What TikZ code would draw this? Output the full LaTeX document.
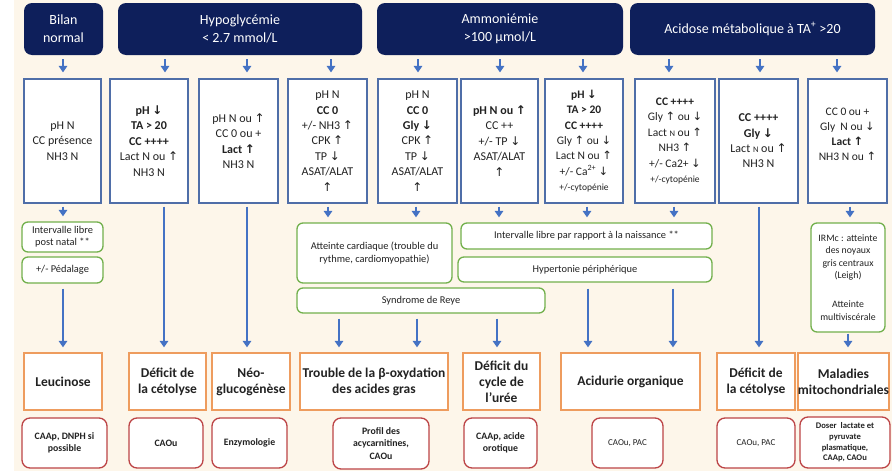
\documentclass[tikz,border=0pt]{standalone}
\usepackage{fontspec}
\setmainfont{Carlito}
\newfontfamily\arrf{DejaVu Sans}[Scale=1.0]
\usetikzlibrary{arrows.meta}
\definecolor{bgc}{HTML}{FDF6EA}
\definecolor{navy}{HTML}{0E1F5B}
\definecolor{bbord}{HTML}{4F6EA8}
\definecolor{arrc}{HTML}{4472C4}
\definecolor{grn}{HTML}{72B04C}
\definecolor{org}{HTML}{EE9C5E}
\definecolor{redb}{HTML}{BC4446}
\definecolor{txt}{HTML}{222222}
\newcommand{\myup}{{\arrf ↑}}
\newcommand{\mydn}{{\arrf ↓}}
\newcommand{\smN}{{\fontsize{8.5}{8.5}\selectfont N}}
\tikzset{
  hdr/.style={fill=navy, rounded corners=8pt, text=white, align=center,
    font=\fontsize{14}{18}\selectfont, inner sep=0pt, minimum height=52},
  bbox/.style={draw=bbord, line width=1.2pt, fill=white, align=center, text=txt,
    font=\fontsize{12}{15.4}\selectfont, inner sep=0pt, minimum height=124},
  gbox/.style={draw=grn, line width=1.3pt, fill=white, rounded corners=6pt, align=center,
    text=txt, font=\fontsize{10.4}{12.4}\selectfont, inner sep=0pt},
  obox/.style={draw=org, line width=1.3pt, fill=white, align=center, text=txt,
    font=\bfseries\fontsize{13.5}{16}\selectfont, inner sep=0pt, minimum height=57},
  rbox/.style={draw=redb, line width=1.3pt, fill=white, rounded corners=8pt, align=center,
    text=txt, font=\bfseries\fontsize{9.8}{12.5}\selectfont, inner sep=0pt, minimum height=50},
  arr/.style={draw=arrc, line width=2.4pt, -{Triangle[width=8.5pt,length=6.5pt]}},
}
\begin{document}
\begin{tikzpicture}[x=1pt,y=-1pt]
\fill[white] (0,0) rectangle (892,471);
\fill[bgc] (14,0) rectangle (892,471);
\useasboundingbox (0,0) rectangle (892,471);
\foreach \v in {63,164,165,247,331,418,500,583,669,760,837,328,416,499,587,674,759,850,339,417,497,588,673,848}
  {\coordinate (k\v) at (\v,0);}

% headers
\node[hdr, minimum width=79] (H1) at (63.5,29) {Bilan\\normal};
\node[hdr, minimum width=244] (H2) at (240,29) {Hypoglycémie\\< 2.7 mmol/L};
\node[hdr, minimum width=246] (H3) at (500,29) {Ammoniémie\\>100 µmol/L};
\node[hdr, minimum width=245] (H4) at (752.5,29) {Acidose métabolique à TA\textsuperscript{+} >20};

% blue boxes
\node[bbox, minimum width=77] (B1) at (62.5,141) {pH N\\CC présence\\NH3 N};
\node[bbox, minimum width=78] (B2) at (149,141) {\textbf{pH \mydn}\\\textbf{TA > 20}\\\textbf{CC ++++}\\Lact N ou \myup\\NH3 N};
\node[bbox, minimum width=79] (B3) at (238.5,141) {pH N ou \myup\\CC 0 ou +\\\textbf{Lact \myup}\\NH3 N};
\node[bbox, minimum width=79] (B4) at (327.5,141) {pH N\\\textbf{CC 0}\\+/- NH3 \myup\\CPK \myup\\TP \mydn\\ASAT/ALAT\\\myup};
\node[bbox, minimum width=79] (B5) at (417.5,141) {pH N\\\textbf{CC 0}\\\textbf{Gly \mydn}\\CPK \myup\\TP \mydn\\ASAT/ALAT\\\myup};
\node[bbox, minimum width=77] (B6) at (499.5,141) {\textbf{pH N ou \myup}\\CC ++\\+/- TP \mydn\\ASAT/ALAT\\\myup};
\node[bbox, minimum width=78, font=\fontsize{11.5}{15.4}\selectfont] (B7) at (584,141) {\textbf{pH \mydn}\\\textbf{TA > 20}\\\textbf{CC ++++}\\Gly \myup{} ou \mydn\\Lact N ou \myup\\+/- Ca\textsuperscript{2+} \mydn\\{\fontsize{9.5}{11}\selectfont +/-cytopénie}};
\node[bbox, minimum width=80, font=\fontsize{11.5}{15.4}\selectfont] (B8) at (675,141) {\textbf{CC ++++}\\Gly \myup{} ou \mydn\\Lact \smN{} ou \myup\\NH3 \myup\\+/- Ca2+ \mydn\\{\fontsize{9.5}{11}\selectfont +/-cytopénie}};
\node[bbox, minimum width=79] (B9) at (758.5,141) {\textbf{CC ++++}\\\textbf{Gly \mydn}\\Lact \smN{} ou \myup\\NH3 N};
\node[bbox, minimum width=79] (B10) at (847.5,141) {};
\node[align=center, text=txt, font=\fontsize{11.5}{15}\selectfont, inner sep=0pt] (T10) at (847.5,134) {CC 0 ou +\\Gly~ N ou \mydn\\\textbf{Lact \myup}\\NH3 N ou \myup};

% green boxes
\node[gbox, minimum width=81, minimum height=30] (G1a) at (62.5,237) {Intervalle libre\\post natal **};
\node[gbox, minimum width=81, minimum height=26] (G1b) at (62.5,270) {+/- Pédalage};
\node[gbox, minimum width=155, minimum height=60] (G4) at (374.5,253) {Atteinte cardiaque (trouble du\\rythme, cardiomyopathie)};
\node[gbox, minimum width=248, minimum height=25] (Reye) at (421,300.5) {Syndrome de Reye};
\node[gbox, minimum width=251, minimum height=26] (G6) at (586.5,236) {Intervalle libre par rapport à la naissance **};
\node[gbox, minimum width=254, minimum height=25] (Hyp) at (585,269.5) {Hypertonie périphérique};
\node[gbox, minimum width=74, minimum height=109, font=\fontsize{9.8}{12.4}\selectfont] (G10) at (848,277.5) {IRMc : atteinte\\des noyaux\\gris centraux\\(Leigh)\\[17pt]Atteinte\\multiviscérale};

% orange boxes
\node[obox, minimum width=78] (O1) at (63,381.5) {Leucinose};
\node[obox, minimum width=77] (O2) at (167.5,381.5) {Déficit de\\la cétolyse};
\node[obox, minimum width=78] (O3) at (251,381.5) {Néo-\\glucogénèse};
\node[obox, minimum width=148] (O4) at (374,381.5) {Trouble de la β-oxydation\\des acides gras};
\node[obox, minimum width=77] (O5) at (501.5,381.5) {Déficit du\\cycle de\\l’urée};
\node[obox, minimum width=139] (O6) at (630.5,381.5) {Acidurie organique};
\node[obox, minimum width=78] (O7) at (756,381.5) {Déficit de\\la cétolyse};
\node[obox, minimum width=87] (O8) at (843.5,381.5) {Maladies\\mitochondriales};

% red boxes
\node[rbox, minimum width=85] (R1) at (64.5,443) {CAAp, DNPH si\\possible};
\node[rbox, minimum width=74] (R2) at (166,443) {CAOu};
\node[rbox, minimum width=75] (R3) at (249.5,443) {Enzymologie};
\node[rbox, minimum width=96, minimum height=51] (R4) at (381,443.5) {Profil des\\acycarnitines,\\CAOu};
\node[rbox, minimum width=73] (R5) at (500.5,443) {CAAp, acide\\orotique};
\node[rbox, minimum width=71, font=\fontsize{9}{11}\selectfont] (R6) at (627.5,443) {CAOu, PAC};
\node[rbox, minimum width=78, font=\fontsize{9}{11}\selectfont] (R7) at (756,443) {CAOu, PAC};
\node[rbox, minimum width=90, minimum height=51, font=\bfseries\fontsize{8.6}{10.6}\selectfont] (R8) at (845,442.5) {Doser~ lactate et\\pyruvate\\plasmatique,\\CAAp, CAOu};

% header arrows
\foreach \h/\b/\k in {H1/B1/63, H2/B2/165, H2/B3/247, H3/B4/331, H3/B5/418, H3/B6/500, H3/B7/583, H4/B8/669, H4/B9/760, H4/B10/837}
  {\draw[arr, shorten <=4pt, shorten >=6pt] (\h.south -| k\k) -- (\b.north -| k\k);}

% short arrows to green boxes
\foreach \a/\b/\k in {B1/G1a/63, B4/G4/328, B5/G4/416, B6/G6/499, B7/G6/587, B8/G6/674, B10/G10/850}
  {\draw[arr, shorten <=3pt, shorten >=5pt] (\a.south -| k\k) -- (\b.north -| k\k);}

% long lines to orange boxes
\foreach \a/\b/\k in {B2/O2/164, B3/O3/247, B9/O7/759}
  {\draw[arr, shorten <=3pt, shorten >=5pt] (\a.south -| k\k) -- (\b.north -| k\k);}
\draw[arr, shorten <=5pt, shorten >=5pt] (G1b.south -| k63) -- (O1.north -| k63);
\foreach \a/\b/\k in {Reye/O4/339, Reye/O4/417, Reye/O5/497}
  {\draw[arr, shorten <=5pt, shorten >=5pt] (\a.south -| k\k) -- (\b.north -| k\k);}
\foreach \a/\b/\k in {Hyp/O6/588, Hyp/O6/673}
  {\draw[arr, shorten <=6pt, shorten >=5pt] (\a.south -| k\k) -- (\b.north -| k\k);}
\draw[arr, shorten <=1pt, shorten >=5pt] (G10.south -| k848) -- (O8.north -| k848);
\end{tikzpicture}
\end{document}
